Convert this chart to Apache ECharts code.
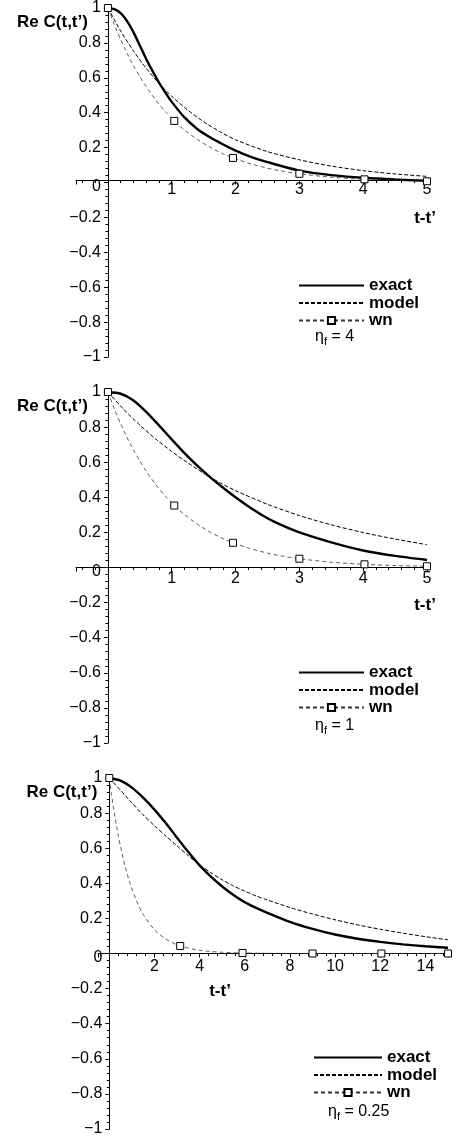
<!DOCTYPE html>
<html>
<head>
<meta charset="utf-8">
<title>Re C(t,t')</title>
<script src="https://cdn.jsdelivr.net/npm/echarts@6/dist/echarts.min.js"></script>
<style>
html, body { margin: 0; padding: 0; background: #fff; }
#chart { width: 457px; height: 1137px; }
</style>
</head>
<body>
<div id="chart"></div>
<script>
// eta_f = 4
var exact1X = [0, 0.1, 0.2, 0.3, 0.4, 0.5, 0.6, 0.7, 0.8, 0.9, 1.0, 1.2, 1.4, 1.6, 1.8, 2.0, 2.25, 2.5, 3.0, 3.5, 4.0, 4.5, 5.0];
var exact1Y = [1.0, 0.993, 0.97, 0.925, 0.862, 0.785, 0.708, 0.638, 0.573, 0.515, 0.462, 0.373, 0.307, 0.259, 0.219, 0.183, 0.146, 0.117, 0.068, 0.042, 0.027, 0.017, 0.01];
var model1X = [0, 0.2, 0.4, 0.6, 0.8, 1.0, 1.25, 1.5, 1.75, 2.0, 2.5, 3.0, 3.5, 4.0, 4.5, 5.0];
var model1Y = [1.0, 0.868, 0.754, 0.655, 0.568, 0.494, 0.415, 0.348, 0.292, 0.245, 0.177, 0.13, 0.094, 0.068, 0.049, 0.035];

// eta_f = 1
var exact2X = [0, 0.2, 0.4, 0.6, 0.8, 1.0, 1.2, 1.4, 1.6, 1.8, 2.0, 2.25, 2.5, 2.75, 3.0, 3.5, 4.0, 4.5, 5.0];
var exact2Y = [1.0, 0.99, 0.952, 0.887, 0.81, 0.73, 0.652, 0.58, 0.515, 0.456, 0.4, 0.336, 0.281, 0.237, 0.2, 0.143, 0.097, 0.066, 0.043];
var model2X = [0, 0.25, 0.5, 0.75, 1.0, 1.25, 1.5, 1.75, 2.0, 2.5, 3.0, 3.5, 4.0, 4.5, 5.0];
var model2Y = [1.0, 0.9, 0.812, 0.732, 0.661, 0.597, 0.537, 0.484, 0.438, 0.36, 0.296, 0.243, 0.199, 0.162, 0.13];

// white noise curve, same in the first two panels
var wnX = [0, 0.1, 0.2, 0.3, 0.4, 0.5, 0.6, 0.75, 0.9, 1.04, 1.2, 1.4, 1.6, 1.8, 1.96, 2.2, 2.5, 2.75, 3.0, 3.5, 4.02, 4.5, 5.0];
var wnY = [1.0, 0.905, 0.819, 0.741, 0.67, 0.607, 0.549, 0.472, 0.407, 0.353, 0.301, 0.247, 0.202, 0.165, 0.141, 0.111, 0.082, 0.064, 0.05, 0.03, 0.018, 0.011, 0.007];
var wnMarks = [0, 1.04, 1.96, 3.0, 4.02, 5.0];

// eta_f = 0.25
var exact3X = [0, 0.5, 1, 1.5, 2, 2.5, 3, 3.5, 4, 4.5, 5, 5.5, 6, 6.5, 7, 8, 9, 10, 11, 12, 13, 14, 15];
var exact3Y = [1.0, 0.985, 0.945, 0.888, 0.82, 0.743, 0.66, 0.578, 0.502, 0.438, 0.382, 0.333, 0.292, 0.26, 0.232, 0.18, 0.14, 0.108, 0.084, 0.066, 0.052, 0.041, 0.033];
var model3X = [0, 0.5, 1, 1.5, 2, 2.5, 3, 3.5, 4, 4.5, 5, 5.5, 6, 6.5, 7, 8, 9, 10, 11, 12, 13, 14, 15];
var model3Y = [1.0, 0.93, 0.858, 0.79, 0.728, 0.67, 0.613, 0.557, 0.505, 0.46, 0.42, 0.385, 0.355, 0.328, 0.305, 0.262, 0.225, 0.192, 0.163, 0.138, 0.116, 0.096, 0.078];
var wn3X = [0, 0.1, 0.2, 0.3, 0.4, 0.5, 0.7, 0.9, 1.2, 1.5, 2, 2.5, 3.14, 4, 5, 5.9, 7, 9, 12.05, 15];
var wn3Y = [1.0, 0.905, 0.819, 0.741, 0.67, 0.607, 0.497, 0.407, 0.301, 0.223, 0.135, 0.082, 0.043, 0.018, 0.007, 0.003, 0.001, 0, 0, 0];
var wn3Marks = [0, 3.14, 5.9, 9, 12.05, 15];

var etaLabels = ['4', '1', '0.25'];

var FONT = "'Liberation Sans', Arial, Helvetica, sans-serif";

function pairs(xs, ys) {
    var out = [];
    for (var i = 0; i < xs.length; i++) out.push([xs[i], ys[i]]);
    return out;
}

function wnData(xs, ys, marks) {
    var out = [];
    for (var i = 0; i < xs.length; i++) {
        var item = {value: [xs[i], ys[i]]};
        if (marks.indexOf(xs[i]) < 0) item.symbol = 'none';
        out.push(item);
    }
    return out;
}

var panels = [
    {grid: {left: 76, top: 4, width: 351, height: 353}, xmax: 5, step: 1, lblMargin: 1, yNamePad: 20,
        xName: 'end', xGap: -2, legend: {left: 298, top: 277, w: 65}, eta: {left: 315, top: 329},
        exact: pairs(exact1X, exact1Y), model: pairs(model1X, model1Y), wn: wnData(wnX, wnY, wnMarks)},
    {grid: {left: 76, top: 392, width: 351, height: 351}, xmax: 5, step: 1, lblMargin: 3, yNamePad: 20,
        xName: 'end', xGap: -2, legend: {left: 298, top: 664, w: 65}, eta: {left: 315, top: 718},
        exact: pairs(exact2X, exact2Y), model: pairs(model2X, model2Y), wn: wnData(wnX, wnY, wnMarks)},
    {grid: {left: 98, top: 778, width: 350, height: 351}, xmax: 15, step: 2, lblMargin: 5, yNamePad: 12,
        xName: 'start', xGap: -122, legend: {left: 313, top: 1049, w: 68}, eta: {left: 328, top: 1104},
        exact: pairs(exact3X, exact3Y), model: pairs(model3X, model3Y), wn: wnData(wn3X, wn3Y, wn3Marks)}
];

var grids = [], xAxes = [], yAxes = [], legends = [], series = [], graphics = [];

panels.forEach(function (p, i) {
    // axes cross at the origin: shift them in from the grid edges
    var zeroFromLeft = p.grid.width * 0.5 / (p.xmax + 0.5);
    var zeroFromBottom = p.grid.height / 2;
    grids.push(p.grid);
    xAxes.push({
        type: 'value', gridIndex: i, min: -0.5, max: p.xmax, position: 'bottom', offset: -zeroFromBottom,
        minInterval: p.step, maxInterval: p.step,
        axisLine: {onZero: false, lineStyle: {color: '#000', width: 1}},
        axisTick: {length: 4, lineStyle: {color: '#000'}},
        minorTick: {show: true, splitNumber: 5, length: 2.5, lineStyle: {color: '#000'}},
        splitLine: {show: false},
        axisLabel: {
            margin: p.lblMargin, fontSize: 16, color: '#000', fontFamily: FONT,
            formatter: function (v) {
                return (v > 0 && v < 15 && Math.abs(v / p.step - Math.round(v / p.step)) < 1e-6) ? String(v) : '';
            }
        },
        name: 't-t\u2019', nameLocation: p.xName, nameGap: p.xGap, nameMoveOverlap: false,
        nameTextStyle: {fontSize: 17, fontWeight: 'bold', color: '#000', fontFamily: FONT,
            align: 'center', verticalAlign: 'top', padding: [29, 0, 0, 0]}
    });
    yAxes.push({
        type: 'value', gridIndex: i, min: -1, max: 1, interval: 0.2, position: 'left', offset: -zeroFromLeft,
        axisLine: {onZero: false, lineStyle: {color: '#000', width: 1}},
        axisTick: {length: 4, lineStyle: {color: '#000'}},
        minorTick: {show: true, splitNumber: 5, length: 2.5, lineStyle: {color: '#000'}},
        splitLine: {show: false},
        axisLabel: {
            margin: 7, fontSize: 16, color: '#000', fontFamily: FONT,
            formatter: function (v) {
                if (Math.abs(v) < 1e-9) return '{z|0}';
                return v < 0 ? '\u2212' + String(-v) : String(v);
            },
            rich: {z: {fontSize: 16, color: '#000', fontFamily: FONT, padding: [8, 0, 0, 0]}}
        },
        name: 'Re C(t,t\u2019)', nameLocation: 'end', nameGap: -14, nameMoveOverlap: false,
        nameTextStyle: {fontSize: 17, fontWeight: 'bold', color: '#000', fontFamily: FONT,
            align: 'right', verticalAlign: 'middle', padding: [0, p.yNamePad, 0, 0]}
    });
    legends.push({
        data: [
            {name: 'exact', itemStyle: {opacity: 0}},
            {name: 'model', itemStyle: {opacity: 0}},
            {name: 'wn'}
        ],
        orient: 'vertical', left: p.legend.left, top: p.legend.top,
        itemWidth: p.legend.w, itemHeight: 9, itemGap: 0.5, align: 'left', padding: 0,
        selectedMode: false,
        textStyle: {fontSize: 17, fontWeight: 'bold', color: '#000', fontFamily: FONT, lineHeight: 17}
    });
    series.push({
        name: 'exact', type: 'line', xAxisIndex: i, yAxisIndex: i, data: p.exact,
        symbol: 'none', smooth: 0.25, lineStyle: {color: '#000', width: 2.4}, itemStyle: {color: '#000'},
        z: 3
    });
    series.push({
        name: 'model', type: 'line', xAxisIndex: i, yAxisIndex: i, data: p.model,
        symbol: 'none', smooth: 0.25, lineStyle: {color: '#000', width: 1, type: [4, 2]}, itemStyle: {color: '#000'},
        z: 2
    });
    series.push({
        name: 'wn', type: 'line', xAxisIndex: i, yAxisIndex: i, data: p.wn,
        symbol: 'rect', symbolSize: 7, smooth: 0.25, clip: false,
        lineStyle: {color: '#333', width: 0.8, type: [4, 3]},
        itemStyle: {color: '#fff', borderColor: '#000', borderWidth: 1},
        z: 4
    });
    graphics.push({
        type: 'text', left: p.eta.left, top: p.eta.top,
        style: {
            text: '{a|\u03b7}{s|f}{a| = ' + etaLabels[i] + '}',
            fill: '#000',
            rich: {
                a: {fontSize: 16, fontFamily: FONT, fill: '#000'},
                s: {fontSize: 11, fontFamily: FONT, fill: '#000', padding: [9, 0, 0, 0]}
            }
        }
    });
});

var chart = echarts.init(document.getElementById('chart'));
chart.setOption({
    backgroundColor: '#fff',
    animation: false,
    grid: grids,
    xAxis: xAxes,
    yAxis: yAxes,
    legend: legends,
    series: series,
    graphic: graphics
});
</script>
</body>
</html>
